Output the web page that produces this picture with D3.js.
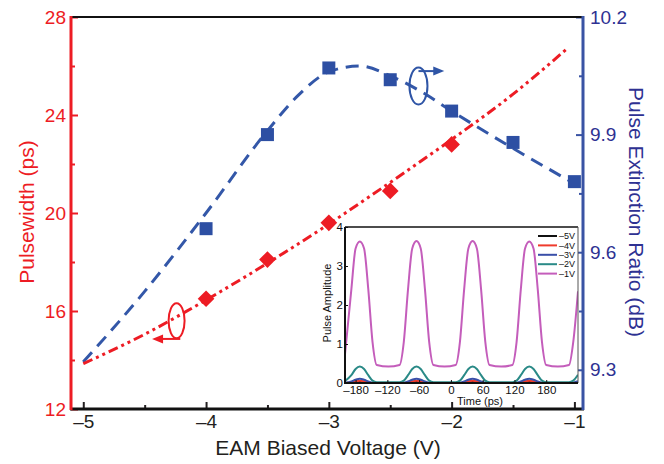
<!DOCTYPE html>
<html>
<head>
<meta charset="utf-8">
<script src="https://cdn.jsdelivr.net/npm/d3@7"></script>
<style>
  body { margin: 0; background: #fff; }
  svg { display: block; }
</style>
</head>
<body>
<div id="chart"></div>
<script>
// main chart data
const pwVoltage = [-4, -3.5, -3, -2.5, -2];
const pulsewidth = [16.5, 18.1, 19.6, 20.9, 22.8];
const erVoltage = [-4, -3.5, -3, -2.5, -2, -1.5, -1];
const extinction = [9.66, 9.90, 10.07, 10.04, 9.96, 9.88, 9.78];

// fitted curves
const pwFitVoltage = [-5, -4.5, -4, -3.5, -3, -2.5, -2, -1.5, -1.05];
const pwFit = [13.85, 15.05, 16.45, 17.95, 19.55, 21.25, 23.0, 24.85, 26.75];
const erFitVoltage = [-5, -4.5, -4, -3.5, -3.25, -3, -2.75, -2.5, -2.25, -2, -1.5, -1];
const erFit = [9.32, 9.50, 9.70, 9.91, 10.0, 10.06, 10.075, 10.05, 10.01, 9.96, 9.865, 9.775];

// ticks
const xTicks = [-5, -4, -3, -2, -1];
const xMinorTicks = [-4.5, -3.5, -2.5, -1.5];
const pwTicks = [12, 16, 20, 24, 28];
const pwMinorTicks = [14, 18, 22, 26];
const erTicks = [9.3, 9.6, 9.9, 10.2];
const erMinorTicks = [9.45, 9.75, 10.05];

// inset: pulse traces
const insetTime = [-200, -188, -180, -172, -164, -156, -148, -140,
  -118,
  -97, -89, -81, -73, -65, -57, -49, -41, -33,
  -12,
  9, 17, 25, 33, 41, 49, 57, 65, 73,
  95,
  116, 124, 132, 140, 148, 156, 164, 172, 180,
  202,
  223, 231, 240];
const amp5V = [0, 0.005, 0.018, 0.025, 0.018, 0.005, 0, 0,
  0,
  0, 0, 0.005, 0.018, 0.025, 0.018, 0.005, 0, 0,
  0,
  0, 0, 0.005, 0.018, 0.025, 0.018, 0.005, 0, 0,
  0,
  0, 0, 0.005, 0.018, 0.025, 0.018, 0.005, 0, 0,
  0,
  0, 0, 0.005];
const amp4V = [0, 0.015, 0.045, 0.06, 0.045, 0.015, 0, 0,
  0,
  0, 0, 0.015, 0.045, 0.06, 0.045, 0.015, 0, 0,
  0,
  0, 0, 0.015, 0.045, 0.06, 0.045, 0.015, 0, 0,
  0,
  0, 0, 0.015, 0.045, 0.06, 0.045, 0.015, 0, 0,
  0,
  0, 0, 0.015];
const amp3V = [0.005, 0.04, 0.085, 0.11, 0.085, 0.04, 0.01, 0,
  0,
  0, 0.01, 0.04, 0.085, 0.11, 0.085, 0.04, 0.01, 0,
  0,
  0, 0.01, 0.04, 0.085, 0.11, 0.085, 0.04, 0.01, 0,
  0,
  0, 0.01, 0.04, 0.085, 0.11, 0.085, 0.04, 0.01, 0,
  0,
  0, 0.01, 0.045];
const amp2V = [0.05, 0.2, 0.36, 0.42, 0.36, 0.2, 0.06, 0.02,
  0.02,
  0.02, 0.06, 0.2, 0.36, 0.42, 0.36, 0.2, 0.06, 0.02,
  0.02,
  0.02, 0.06, 0.2, 0.36, 0.42, 0.36, 0.2, 0.06, 0.02,
  0.02,
  0.02, 0.06, 0.2, 0.36, 0.42, 0.36, 0.2, 0.06, 0.02,
  0.02,
  0.02, 0.06, 0.21];
const amp1V = [0.74, 2.4, 3.45, 3.63, 3.45, 2.4, 1.05, 0.46,
  0.42,
  0.46, 1.05, 2.4, 3.45, 3.64, 3.45, 2.4, 1.05, 0.46,
  0.42,
  0.46, 1.05, 2.4, 3.45, 3.64, 3.45, 2.4, 1.05, 0.46,
  0.42,
  0.46, 1.05, 2.4, 3.45, 3.63, 3.45, 2.4, 1.05, 0.46,
  0.42,
  0.46, 1.05, 2.35];
const insetLabels = ["\u20135V", "\u20134V", "\u20133V", "\u20132V", "\u20131V"];
const insetXTicks = [-180, -120, -60, 0, 60, 120, 180];
const insetYTicks = [0, 1, 2, 3, 4];

const FONT = '"Liberation Sans", Arial, Helvetica, sans-serif';
const RED = "#ed1c24";
const BLUE = "#2d4fa3";
const BLUE_AXIS = "#3953a4";
const NAVY = "#2e3192";
const DARK = "#231f20";

const width = 664, height = 464;
const L = 71, R = 583, T = 17, B = 409;

const svg = d3.select("#chart").append("svg")
  .attr("width", width)
  .attr("height", height)
  .style("font-family", FONT);

const x = d3.scaleLinear().domain([-5.1, -0.93]).range([L, R]);
const yPw = d3.scaleLinear().domain([12, 28]).range([B, T]);
const yEr = d3.scaleLinear().domain([9.2, 10.2]).range([B, T]);

const dash = d => d < 0 ? "\u2013" + Math.abs(d) : String(d);

function axis(gen, tx, ty, color, size) {
  const g = svg.append("g")
    .attr("transform", `translate(${tx},${ty})`)
    .call(gen)
    .attr("font-family", FONT)
    .attr("font-size", size);
  g.select(".domain").remove();
  g.selectAll("line").attr("stroke", color).attr("stroke-width", 2);
  g.selectAll("text").attr("fill", color);
  return g;
}

// ticks (inward)
axis(d3.axisBottom(x).tickValues(xTicks).tickSize(-7).tickPadding(6).tickFormat(dash), 0, B, DARK, 19);
axis(d3.axisBottom(x).tickValues(xMinorTicks).tickSize(-4).tickFormat(""), 0, B, DARK, 19);
axis(d3.axisLeft(yPw).tickValues(pwTicks).tickSize(-7).tickPadding(5).tickFormat(d3.format("d")), L, 0, RED, 19);
axis(d3.axisLeft(yPw).tickValues(pwMinorTicks).tickSize(-4).tickFormat(""), L, 0, RED, 19);
axis(d3.axisRight(yEr).tickValues(erTicks).tickSize(-7).tickPadding(7).tickFormat(d3.format(".1f")), R, 0, BLUE_AXIS, 19)
  .selectAll("text").attr("fill", NAVY);
axis(d3.axisRight(yEr).tickValues(erMinorTicks).tickSize(-4).tickFormat(""), R, 0, BLUE_AXIS, 19);

// frame lines
svg.append("line").attr("x1", L).attr("x2", R).attr("y1", T).attr("y2", T)
  .attr("stroke", "#111").attr("stroke-width", 2);
svg.append("line").attr("x1", L - 1).attr("x2", R + 1).attr("y1", B).attr("y2", B)
  .attr("stroke", "#111").attr("stroke-width", 3);
svg.append("line").attr("x1", L).attr("x2", L).attr("y1", T - 1).attr("y2", B + 1)
  .attr("stroke", RED).attr("stroke-width", 3);
svg.append("line").attr("x1", R).attr("x2", R).attr("y1", T - 1).attr("y2", B + 1)
  .attr("stroke", BLUE_AXIS).attr("stroke-width", 3);

// axis titles
svg.append("text")
  .attr("transform", `translate(34,212) rotate(-90)`)
  .attr("text-anchor", "middle")
  .attr("font-size", 21)
  .attr("fill", RED)
  .text("Pulsewidth (ps)");
svg.append("text")
  .attr("transform", `translate(629,212) rotate(90)`)
  .attr("text-anchor", "middle")
  .attr("font-size", 21)
  .attr("fill", NAVY)
  .text("Pulse Extinction Ratio (dB)");
svg.append("text")
  .attr("x", 328).attr("y", 455)
  .attr("text-anchor", "middle")
  .attr("font-size", 21)
  .attr("fill", DARK)
  .text("EAM Biased Voltage (V)");

// fit curves
const pwLine = d3.line().x(d => x(d[0])).y(d => yPw(d[1])).curve(d3.curveMonotoneX);
const erLine = d3.line().x(d => x(d[0])).y(d => yEr(d[1])).curve(d3.curveMonotoneX);

svg.append("path")
  .datum(d3.zip(erFitVoltage, erFit))
  .attr("d", erLine)
  .attr("fill", "none")
  .attr("stroke", "#3357a8")
  .attr("stroke-width", 3)
  .attr("stroke-dasharray", "13,8");

svg.append("path")
  .datum(d3.zip(pwFitVoltage, pwFit))
  .attr("d", pwLine)
  .attr("fill", "none")
  .attr("stroke", RED)
  .attr("stroke-width", 3)
  .attr("stroke-dasharray", "10,4,3,4,3,4");

// markers
svg.append("g").selectAll("path")
  .data(d3.zip(erVoltage, extinction))
  .join("path")
  .attr("transform", d => `translate(${x(d[0])},${yEr(d[1])})`)
  .attr("d", d3.symbol(d3.symbolSquare, 169))
  .attr("fill", BLUE);

svg.append("g").selectAll("path")
  .data(d3.zip(pwVoltage, pulsewidth))
  .join("path")
  .attr("transform", d => `translate(${x(d[0])},${yPw(d[1])}) rotate(45)`)
  .attr("d", d3.symbol(d3.symbolSquare, 139))
  .attr("fill", RED);

// axis annotations (ellipse + arrow)
function marker(cx, cy, rx, ry, x1, x2, ay, color) {
  const g = svg.append("g").attr("fill", "none").attr("stroke", color).attr("stroke-width", 2);
  g.append("ellipse").attr("cx", cx).attr("cy", cy).attr("rx", rx).attr("ry", ry);
  const dir = Math.sign(x2 - x1);
  g.append("line").attr("x1", x1).attr("x2", x2 - dir * 9).attr("y1", ay).attr("y2", ay);
  g.append("path")
    .attr("d", `M${x2},${ay}L${x2 - dir * 11},${ay - 4.5}L${x2 - dir * 11},${ay + 4.5}Z`)
    .attr("fill", color).attr("stroke", "none");
}
marker(x(-4.24), yPw(15.6), 8, 17.5, x(-4.21), x(-4.44), yPw(14.86), RED);
marker(x(-2.27), yEr(10.024), 9, 18.5, x(-2.27), x(-2.06), yEr(10.062), "#2f55a6");

// inset
const iL = 345, iR = 578, iT = 227, iB = 383;
const tx = d3.scaleLinear().domain([-200, 240]).range([iL, iR]);
const ty = d3.scaleLinear().domain([0, 4]).range([iB, iT]);

const inset = svg.append("g");
inset.append("rect")
  .attr("x", iL).attr("y", iT).attr("width", iR - iL).attr("height", iB - iT)
  .attr("fill", "#fff");

svg.append("clipPath").attr("id", "insetClip")
  .append("rect").attr("x", iL).attr("y", iT - 2).attr("width", iR - iL).attr("height", iB - iT + 2);

const traces = [
  { label: insetLabels[0], color: "#111111", values: amp5V },
  { label: insetLabels[1], color: "#ef3b2c", values: amp4V },
  { label: insetLabels[2], color: "#3a4fa8", values: amp3V },
  { label: insetLabels[3], color: "#2a8a87", values: amp2V },
  { label: insetLabels[4], color: "#c45dbb", values: amp1V }
];

const traceLine = d3.line().x(d => tx(d[0])).y(d => ty(d[1])).curve(d3.curveMonotoneX);
inset.append("g").attr("clip-path", "url(#insetClip)")
  .selectAll("path")
  .data(traces)
  .join("path")
  .attr("d", d => traceLine(d3.zip(insetTime, d.values)))
  .attr("fill", "none")
  .attr("stroke", d => d.color)
  .attr("stroke-width", 2);

function insetAxis(gen, ax, ay) {
  const g = inset.append("g")
    .attr("transform", `translate(${ax},${ay})`)
    .call(gen)
    .attr("font-family", FONT)
    .attr("font-size", 11.5);
  g.select(".domain").remove();
  g.selectAll("line").attr("stroke", "#111").attr("stroke-width", 1);
  g.selectAll("text").attr("fill", "#111");
}
insetAxis(d3.axisBottom(tx).tickValues(insetXTicks).tickSize(-3).tickPadding(3).tickFormat(dash), 0, iB);
insetAxis(d3.axisLeft(ty).tickValues(insetYTicks).tickSize(-3).tickPadding(2).tickFormat(d3.format("d")), iL, 0);

// inset frame
inset.append("line").attr("x1", iL).attr("x2", iR).attr("y1", iT).attr("y2", iT)
  .attr("stroke", "#111").attr("stroke-width", 1.3);
inset.append("line").attr("x1", iR).attr("x2", iR).attr("y1", iT).attr("y2", iB)
  .attr("stroke", "#555").attr("stroke-width", 1);
inset.append("line").attr("x1", iL).attr("x2", iL).attr("y1", iT).attr("y2", iB + 1)
  .attr("stroke", "#111").attr("stroke-width", 2);
inset.append("line").attr("x1", iL - 1).attr("x2", iR).attr("y1", iB).attr("y2", iB)
  .attr("stroke", "#111").attr("stroke-width", 2);

inset.append("text")
  .attr("transform", `translate(331,303) rotate(-90)`)
  .attr("text-anchor", "middle")
  .attr("font-size", 11)
  .attr("fill", "#111")
  .text("Pulse Amplitude");
inset.append("text")
  .attr("x", 480).attr("y", 405)
  .attr("text-anchor", "middle")
  .attr("font-size", 11)
  .attr("fill", "#111")
  .text("Time (ps)");

// inset legend
const legend = inset.append("g").attr("transform", "translate(538,236)");
const rows = legend.selectAll("g")
  .data(traces)
  .join("g")
  .attr("transform", (d, i) => `translate(0,${i * 9.4})`);
rows.append("line")
  .attr("x1", 0).attr("x2", 19)
  .attr("stroke", d => d.color)
  .attr("stroke-width", 2);
rows.append("text")
  .attr("x", 21).attr("dy", "0.35em")
  .attr("font-size", 9)
  .attr("fill", "#111")
  .text(d => d.label);
</script>
</body>
</html>
